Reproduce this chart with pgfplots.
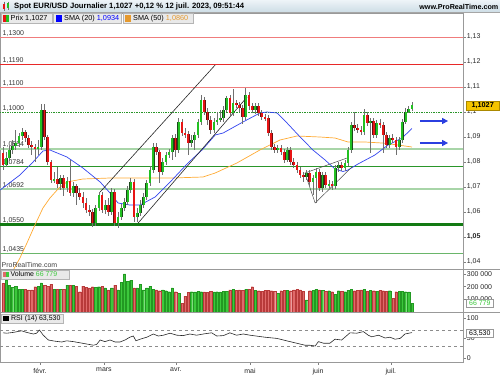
\documentclass[border=0pt]{standalone}
\usepackage{pgfplots}
\pgfplotsset{compat=1.18}
\usepackage{pgfplotstable}
\usepackage{fontspec}
\setmainfont{Liberation Sans}
\usetikzlibrary{arrows.meta}

\definecolor{candG}{HTML}{22C022}
\definecolor{candR}{HTML}{E81414}
\definecolor{candGo}{HTML}{1A4A1A}
\definecolor{candRo}{HTML}{6A1010}
\definecolor{wick}{HTML}{707070}
\definecolor{volG}{HTML}{3CC83C}
\definecolor{volGd}{HTML}{229922}
\definecolor{volR}{HTML}{E06A6A}
\definecolor{volRd}{HTML}{B83A3A}
\definecolor{smaB}{HTML}{3344EE}
\definecolor{smaO}{HTML}{FFAA33}
\definecolor{lvR}{HTML}{E82828}
\definecolor{lvRl}{HTML}{F07C7C}
\definecolor{lvG}{HTML}{2A962A}
\definecolor{lvGl}{HTML}{A8D5A8}
\definecolor{lvGd}{HTML}{137A13}
\definecolor{arrB}{HTML}{2B3FE0}
\definecolor{hdrT}{HTML}{EEF4F8}
\definecolor{hdrB}{HTML}{CCDCE5}
\definecolor{lgbg}{HTML}{E9E9E9}
\definecolor{lgbd}{HTML}{B5B5B5}
\definecolor{yel}{HTML}{F4C400}
\definecolor{volTxt}{HTML}{3CC83C}

\newcommand\tf{\fontsize{7}{8}\selectfont}
\newcommand\hf{\fontsize{7.7}{9}\selectfont\bfseries}

% i open high low close volume  (up candles)
\pgfplotstableread{
i o h l c v
1 1.0788 1.0840 1.0780 1.0816 252000
2 1.0816 1.0864 1.0804 1.0848 213000
3 1.0848 1.0888 1.0832 1.0864 197000
4 1.0864 1.0928 1.0848 1.0876 205000
5 1.0876 1.0916 1.0860 1.0904 181000
6 1.0904 1.0936 1.0888 1.0920 181000
11 1.0852 1.0888 1.0828 1.0860 205000
12 1.0860 1.1032 1.0848 1.1008 229000
16 1.0728 1.0760 1.0716 1.0732 181000
18 1.0712 1.0748 1.0688 1.0736 181000
20 1.0696 1.0740 1.0680 1.0724 213000
22 1.0676 1.0720 1.0660 1.0704 213000
29 1.0556 1.0628 1.0544 1.0616 197000
30 1.0616 1.0680 1.0604 1.0668 200000
32 1.0608 1.0648 1.0592 1.0628 190000
34 1.0600 1.0696 1.0588 1.0680 190000
36 1.0556 1.0600 1.0536 1.0580 174000
37 1.0580 1.0632 1.0568 1.0616 236000
38 1.0616 1.0656 1.0604 1.0640 300000
39 1.0640 1.0704 1.0628 1.0688 244000
40 1.0688 1.0736 1.0676 1.0720 252000
42 1.0580 1.0616 1.0560 1.0596 190000
43 1.0596 1.0648 1.0584 1.0628 221000
44 1.0628 1.0676 1.0616 1.0660 174000
45 1.0660 1.0728 1.0648 1.0716 190000
46 1.0716 1.0784 1.0704 1.0768 205000
47 1.0768 1.0876 1.0756 1.0860 181000
50 1.0760 1.0816 1.0748 1.0800 174000
51 1.0800 1.0840 1.0788 1.0828 168000
52 1.0828 1.0852 1.0816 1.0840 160000
53 1.0840 1.0908 1.0808 1.0896 190000
55 1.0848 1.0976 1.0836 1.0960 150000
59 1.0876 1.0908 1.0860 1.0888 160000
60 1.0888 1.0920 1.0848 1.0908 158000
61 1.0908 1.0972 1.0896 1.0960 165000
62 1.0960 1.1068 1.0948 1.1048 160000
66 1.0928 1.0976 1.0916 1.0960 158000
67 1.0960 1.1000 1.0948 1.0968 160000
68 1.0968 1.1008 1.0960 1.0976 158000
69 1.0976 1.1024 1.0960 1.1008 162000
70 1.1008 1.1064 1.1000 1.1056 165000
72 1.0996 1.1092 1.0984 1.1036 178000
76 1.0980 1.1096 1.0968 1.1068 180000
79 1.1008 1.1036 1.0992 1.1024 170000
86 1.0848 1.0868 1.0836 1.0856 150000
89 1.0808 1.0860 1.0800 1.0848 172000
95 1.0740 1.0768 1.0728 1.0756 95000
97 1.0720 1.0748 1.0668 1.0736 172000
98 1.0736 1.0776 1.0636 1.0760 181000
100 1.0696 1.0760 1.0680 1.0748 170000
102 1.0708 1.0728 1.0696 1.0712 168000
104 1.0704 1.0788 1.0692 1.0776 140000
105 1.0776 1.0800 1.0760 1.0788 168000
107 1.0776 1.0808 1.0764 1.0796 160000
108 1.0796 1.0860 1.0784 1.0848 172000
109 1.0848 1.0960 1.0836 1.0948 180000
113 1.0920 1.1012 1.0908 1.0988 181000
115 1.0956 1.0976 1.0836 1.0964 170000
117 1.0908 1.0968 1.0896 1.0956 165000
121 1.0868 1.0908 1.0856 1.0896 168000
124 1.0860 1.0900 1.0848 1.0888 162000
125 1.0888 1.0972 1.0876 1.0960 165000
126 1.0960 1.1016 1.0952 1.1000 160000
127 1.1000 1.1024 1.0996 1.1012 158000
128 1.1012 1.1040 1.1004 1.1027 66779
}\up

% down candles
\pgfplotstableread{
i o h l c v
0 1.0836 1.0860 1.0768 1.0788 226000
7 1.0920 1.0928 1.0880 1.0896 181000
8 1.0896 1.0908 1.0856 1.0868 174000
9 1.0868 1.0884 1.0828 1.0860 174000
10 1.0860 1.0872 1.0800 1.0852 200000
13 1.1008 1.1032 1.0888 1.0900 213000
14 1.0900 1.0908 1.0788 1.0800 205000
15 1.0800 1.0808 1.0716 1.0728 221000
17 1.0732 1.0780 1.0696 1.0712 181000
19 1.0736 1.0748 1.0664 1.0696 181000
21 1.0724 1.0808 1.0664 1.0676 213000
23 1.0704 1.0712 1.0628 1.0676 205000
24 1.0676 1.0696 1.0648 1.0660 160000
25 1.0660 1.0680 1.0616 1.0636 205000
26 1.0636 1.0656 1.0596 1.0608 197000
27 1.0608 1.0628 1.0584 1.0600 190000
28 1.0600 1.0612 1.0540 1.0556 200000
31 1.0668 1.0680 1.0596 1.0608 205000
33 1.0628 1.0656 1.0584 1.0600 174000
35 1.0680 1.0692 1.0544 1.0556 213000
41 1.0720 1.0732 1.0560 1.0580 190000
48 1.0860 1.0876 1.0828 1.0840 174000
49 1.0840 1.0848 1.0716 1.0760 168000
54 1.0896 1.0912 1.0820 1.0848 160000
56 1.0960 1.0972 1.0904 1.0916 70000
57 1.0916 1.0936 1.0896 1.0912 126000
58 1.0912 1.0924 1.0828 1.0876 155000
63 1.1048 1.1060 1.0988 1.1000 158000
64 1.1000 1.1016 1.0948 1.0968 155000
65 1.0968 1.0984 1.0912 1.0928 162000
71 1.1056 1.1068 1.0984 1.0996 175000
73 1.1036 1.1048 1.1016 1.1028 172000
74 1.1028 1.1040 1.1000 1.1016 175000
75 1.1016 1.1028 1.0952 1.0980 170000
77 1.1068 1.1080 1.1008 1.1024 181000
78 1.1024 1.1036 1.0996 1.1008 200000
80 1.1024 1.1036 1.0984 1.0996 168000
81 1.0996 1.1008 1.0968 1.0980 165000
82 1.0980 1.0992 1.0964 1.0976 170000
83 1.0976 1.0988 1.0904 1.0916 172000
84 1.0916 1.0928 1.0848 1.0860 168000
85 1.0860 1.0872 1.0836 1.0848 165000
87 1.0856 1.0868 1.0828 1.0840 168000
88 1.0840 1.0852 1.0796 1.0808 170000
90 1.0848 1.0860 1.0788 1.0800 168000
91 1.0800 1.0816 1.0776 1.0788 175000
92 1.0788 1.0800 1.0756 1.0768 181000
93 1.0768 1.0780 1.0736 1.0748 175000
94 1.0748 1.0760 1.0720 1.0740 165000
96 1.0756 1.0768 1.0704 1.0720 168000
99 1.0760 1.0772 1.0684 1.0696 175000
101 1.0748 1.0760 1.0696 1.0708 165000
103 1.0712 1.0724 1.0688 1.0704 160000
106 1.0788 1.0800 1.0764 1.0776 165000
110 1.0948 1.1000 1.0924 1.0936 168000
111 1.0936 1.0952 1.0916 1.0928 172000
112 1.0928 1.0944 1.0908 1.0920 175000
114 1.0988 1.1000 1.0944 1.0956 165000
116 1.0964 1.0976 1.0896 1.0908 168000
118 1.0956 1.0972 1.0936 1.0948 172000
119 1.0948 1.0960 1.0836 1.0908 168000
120 1.0908 1.0920 1.0856 1.0868 165000
122 1.0896 1.0912 1.0876 1.0888 108000
123 1.0888 1.0900 1.0828 1.0860 160000
}\dn

\pgfplotstableread{
x s
-0.9 1.0688
5.3 1.0748
9.4 1.0800
12.5 1.0844
14.7 1.0848
20.0 1.0820
25.0 1.0776
30.4 1.0720
33.5 1.0676
36.0 1.0636
39.7 1.0628
42.9 1.0628
47.6 1.0660
52.9 1.0728
57.9 1.0796
62.3 1.0848
66.4 1.0908
68.9 1.0916
75.1 1.0960
80.4 1.0996
82.6 1.1000
85.8 1.0996
88.9 1.0956
93.0 1.0900
97.0 1.0848
100.8 1.0808
103.9 1.0772
106.4 1.0762
108.0 1.0768
111.1 1.0792
116.4 1.0828
120.5 1.0868
124.9 1.0896
128.0 1.0934
}\smaA

\pgfplotstableread{
x s
3.4 1.0372
5.3 1.0416
7.5 1.0476
10.0 1.0548
12.5 1.0616
14.7 1.0656
17.5 1.0696
20.0 1.0720
25.0 1.0732
33.5 1.0736
42.3 1.0736
52.9 1.0736
62.6 1.0740
66.4 1.0756
73.2 1.0796
80.4 1.0848
86.7 1.0888
92.0 1.0904
99.2 1.0900
103.9 1.0896
108.0 1.0880
113.3 1.0880
118.6 1.0876
123.6 1.0868
128.0 1.0860
}\smaB

\pgfplotstableread{
x r
0 63
1.2 62
3.2 64
5.8 68
7.4 64
9.5 60
10.5 62
11.4 70
12.6 57
14.2 45
16.3 42
18.4 40
19.9 43
22 41
24.1 38
26.2 35
28.3 32
29.3 34
30.4 45
31.9 41
33.5 45
35.1 40
36.6 40
38.2 45
39.7 52
40.8 55
41.6 43
42.9 47
45 52
47 60
48.6 55
50.2 57
52.3 62
54.4 57
56.4 56
58.5 60
60.6 57
62.7 60
65.3 63
66.9 55
69 56
71 63
73.1 57
75.2 60
77.3 57
82 52
85.7 49
89.8 41
91.9 37
94.5 32
96 32
97.7 30
98.7 41
100.3 37
102.3 37
103.9 47
106 45
108.6 63
110.7 62
112.8 66
114.3 57
115.4 53
117.5 57
119.6 50
121.1 52
122.7 47
124.3 49
125.8 60
128 63.53
}\rsi

\pgfplotsset{
  panel/.style={scale only axis, width=463bp, xmin=-0.94, xmax=143.97,
    axis line style={draw=black!40, line width=0.5bp},
    tick align=outside, major tick length=2.5bp,
    tick style={draw=black!50, line width=0.5bp},
    ytick pos=right, yticklabel pos=right,
    yticklabel style={font=\tf, text=black!85, inner sep=1.2bp},
    xticklabel style={font=\tf, text=black!85},
    clip=false},
  wk/.style={draw=none, mark=none, forget plot, error bars/.cd, y dir=both, y explicit,
    error mark=none, error bar style={draw=wick, line width=0.7bp}},
  bodyout/.style={draw=none, mark=none, forget plot, error bars/.cd, y dir=both, y explicit,
    error mark=none, error bar style={draw=#1, line width=2.7bp}},
  bodyin/.style={draw=none, mark=none, forget plot, error bars/.cd, y dir=both, y explicit,
    error mark=none, error bar style={draw=#1, line width=1.9bp}},
  lvl/.style={forget plot, line width=#1},
}

\begin{document}
\begin{tikzpicture}
\useasboundingbox (0,0) rectangle (500bp,-375bp);

% ---------------- price panel ----------------
\begin{axis}[panel, at={(0bp,-269bp)}, anchor=south west, height=256bp,
  ymin=1.0372, ymax=1.1396, xtick=\empty,
  ytick={1.04,1.05,1.06,1.07,1.08,1.09,1.1,1.11,1.12,1.13},
  yticklabels={{1,04},{\textbf{1,05}},{1,06},{1,07},{1,08},{1,09},{1,1},{1,11},{1,12},{1,13}}]
  % levels
  \addplot[lvl=0.7bp, lvRl] coordinates {(-0.94,1.1300) (143.97,1.1300)};
  \addplot[lvl=1.6bp, lvR] coordinates {(-0.94,1.1190) (143.97,1.1190)};
  \addplot[lvl=0.7bp, lvRl] coordinates {(-0.94,1.1100) (143.97,1.1100)};
  \addplot[lvl=0.7bp, lvG, densely dotted] coordinates {(-0.94,1.1000) (143.97,1.1000)};
  \addplot[lvl=2bp, lvGl] coordinates {(-0.94,1.0854) (143.97,1.0854)};
  \addplot[lvl=1bp, lvG] coordinates {(-0.94,1.0784) (143.97,1.0784)};
  \addplot[lvl=2bp, lvGl] coordinates {(-0.94,1.0692) (143.97,1.0692)};
  \addplot[lvl=2.4bp, lvGd] coordinates {(-0.94,1.0550) (143.97,1.0550)};
  \addplot[lvl=0.8bp, lvG!70] coordinates {(-0.94,1.0435) (143.97,1.0435)};
  \foreach \v/\t in {1.1300/{1,1300},1.1190/{1,1190},1.1100/{1,1100},1.1000/{1,1000},1.0854/{1,0854},1.0784/{1,0784},1.0692/{1,0692},1.0550/{1,0550},1.0435/{1,0435}}{
    \edef\tmp{\noexpand\node[anchor=south west, font=\noexpand\tf, text=black!80, inner sep=0.8bp] at (axis cs:-0.4,\v) {\t};}\tmp
  }
  % SMA
  \addplot[smaO, line width=0.7bp, forget plot] table[x=x,y=s]{\smaB};
  \addplot[smaB, line width=0.7bp, forget plot] table[x=x,y=s]{\smaA};
  % channels
  \addplot[black!85, line width=0.6bp, forget plot] coordinates {(30.4,1.0680) (66.4,1.1188)};
  \addplot[black!85, line width=0.6bp, forget plot] coordinates {(42.3,1.0556) (76.4,1.1060)};
  \addplot[black!70, line width=0.5bp, forget plot] coordinates {(94.5,1.0756) (107.7,1.0816)};
  \addplot[black!70, line width=0.5bp, forget plot] coordinates {(97.7,1.0636) (109.2,1.0780)};
  \addplot[black!70, line width=0.5bp, forget plot] coordinates {(94.5,1.0756) (97.7,1.0636)};
  % candles: wicks
  \addplot[wk] table[x=i, y expr={(\thisrow{h}+\thisrow{l})/2}, y error expr={(\thisrow{h}-\thisrow{l})/2}]{\up};
  \addplot[wk] table[x=i, y expr={(\thisrow{h}+\thisrow{l})/2}, y error expr={(\thisrow{h}-\thisrow{l})/2}]{\dn};
  % bodies
  \addplot[bodyout=candGo] table[x=i, y expr={(\thisrow{o}+\thisrow{c})/2}, y error expr={(\thisrow{c}-\thisrow{o})/2+0.00018}]{\up};
  \addplot[bodyin=candG] table[x=i, y expr={(\thisrow{o}+\thisrow{c})/2}, y error expr={(\thisrow{c}-\thisrow{o})/2}]{\up};
  \addplot[bodyout=candRo] table[x=i, y expr={(\thisrow{o}+\thisrow{c})/2}, y error expr={(\thisrow{o}-\thisrow{c})/2+0.00018}]{\dn};
  \addplot[bodyin=candR] table[x=i, y expr={(\thisrow{o}+\thisrow{c})/2}, y error expr={(\thisrow{o}-\thisrow{c})/2}]{\dn};
  % arrows
  \addplot[arrB, line width=1.4bp, forget plot, -{Triangle[length=6bp,width=6bp]}] coordinates {(130.5,1.0964) (139.3,1.0964)};
  \addplot[arrB, line width=1.4bp, forget plot, -{Triangle[length=6bp,width=6bp]}] coordinates {(130.5,1.0876) (139.3,1.0876)};
\end{axis}

% ---------------- volume panel ----------------
\begin{axis}[panel, at={(0bp,-312bp)}, anchor=south west, height=43bp,
  ymin=0, ymax=339400, xtick=\empty, scaled y ticks=false,
  ytick={100000,200000,300000}, yticklabels={{100 000},{200 000},{300 000}}]
  \addplot[ybar, bar width=2.3bp, bar shift=0pt, fill=volG, draw=volGd, line width=0.3bp] table[x=i,y=v]{\up};
  \addplot[ybar, bar width=2.3bp, bar shift=0pt, fill=volR, draw=volRd, line width=0.3bp] table[x=i,y=v]{\dn};
\end{axis}

% ---------------- RSI panel ----------------
\begin{axis}[panel, at={(0bp,-362bp)}, anchor=south west, height=50bp,
  ymin=-10, ymax=115,
  xtick={11.6,31.6,54.1,77.3,98.6,121.4}, xticklabels={févr.,mars,avr.,mai,juin,juil.},
  xtick pos=bottom,
  ytick={0,50,100}, yticklabels={0,50,100}]
  \addplot[black!45, dashed, line width=0.5bp, forget plot] coordinates {(-0.94,70) (143.97,70)};
  \addplot[black!45, dashed, line width=0.5bp, forget plot] coordinates {(-0.94,30) (143.97,30)};
  \addplot[black!85, line width=0.6bp] table[x=x,y=r]{\rsi};
\end{axis}

% separators on the right side
\draw[black!40, line width=0.5bp] (463bp,-269bp) -- (500bp,-269bp);
\draw[black!40, line width=0.5bp] (463bp,-312bp) -- (500bp,-312bp);

% ---------------- header ----------------
\shade[top color=hdrT, bottom color=hdrB] (0,0) rectangle (500bp,-12.5bp);
\draw[black!35, line width=0.5bp] (0,-12.5bp) -- (500bp,-12.5bp);
\draw[wick, line width=0.5bp] (4bp,-1.5bp) -- (4bp,-10.5bp);
\fill[candR] (2.7bp,-3.5bp) rectangle (5.3bp,-9bp);
\draw[wick, line width=0.5bp] (8bp,-1.5bp) -- (8bp,-10bp);
\fill[candG] (6.7bp,-2.8bp) rectangle (9.3bp,-8bp);
\node[anchor=west, font=\hf, inner sep=0pt] at (14bp,-6.5bp) {Spot EUR/USD Journalier 1,1027 +0,12 \% 12 juil. 2023, 09:51:44};
\node[anchor=east, font=\fontsize{7.2}{8}\selectfont\bfseries, inner sep=0pt] at (498.5bp,-6.5bp) {www.ProRealTime.com};

% legend row
\draw[fill=lgbg, draw=lgbd, line width=0.4bp] (1.5bp,-13.3bp) rectangle (52bp,-23.5bp);
\fill[candR] (3bp,-15.3bp) rectangle (6bp,-21.5bp);
\fill[candG] (6bp,-15.3bp) rectangle (9bp,-21.5bp);
\node[anchor=west, font=\fontsize{7.3}{8}\selectfont, inner sep=0pt] at (10.5bp,-18.5bp) {Prix 1,1027};
\draw[fill=lgbg, draw=lgbd, line width=0.4bp] (53.5bp,-13.3bp) rectangle (121.5bp,-23.5bp);
\fill[blue] (55.5bp,-15.3bp) rectangle (61.5bp,-21.5bp);
\node[anchor=west, font=\fontsize{7.3}{8}\selectfont, inner sep=0pt] at (64bp,-18.5bp) {SMA (20) \textcolor{blue}{1,0934}};
\draw[fill=lgbg, draw=lgbd, line width=0.4bp] (123bp,-13.3bp) rectangle (193bp,-23.5bp);
\fill[smaO!90!black] (124.5bp,-15.3bp) rectangle (130.5bp,-21.5bp);
\node[anchor=west, font=\fontsize{7.3}{8}\selectfont, inner sep=0pt] at (133bp,-18.5bp) {SMA (50) \textcolor{smaO!90!black}{1,0860}};

% price tag
\draw[fill=yel, draw=yel!70!black, line width=0.4bp] (466bp,-101bp) rectangle (499.5bp,-110bp);
\node[font=\fontsize{7.3}{8}\selectfont\bfseries, inner sep=0pt] at (482.7bp,-105.6bp) {1,1027};

% volume panel texts
\node[anchor=west, font=\tf, text=black!75, inner sep=0pt] at (1.5bp,-265bp) {ProRealTime.com};
\draw[fill=lgbg, draw=lgbd, line width=0.4bp] (0.8bp,-269.8bp) rectangle (69bp,-278.8bp);
\fill[volR] (3bp,-271.5bp) rectangle (5.8bp,-277bp);
\fill[volG] (5.8bp,-271.5bp) rectangle (8.6bp,-277bp);
\node[anchor=west, font=\tf, inner sep=0pt] at (10.5bp,-274.3bp) {Volume \textcolor{volTxt}{66 779}};
\draw[fill=white, draw=black!40, line width=0.4bp] (466bp,-299bp) rectangle (493.5bp,-307.5bp);
\node[font=\tf, text=volTxt, inner sep=0pt] at (479.8bp,-303.3bp) {66 779};

% RSI panel texts
\draw[fill=lgbg, draw=lgbd, line width=0.4bp] (0.8bp,-313.8bp) rectangle (63bp,-323bp);
\fill[black] (3bp,-315.5bp) rectangle (9bp,-321.3bp);
\node[anchor=west, font=\tf, inner sep=0pt] at (11bp,-318.4bp) {RSI (14) 63,530};
\draw[fill=white, draw=black!40, line width=0.4bp] (466bp,-329bp) rectangle (493.5bp,-337.5bp);
\node[font=\tf, inner sep=0pt] at (479.8bp,-333.3bp) {63,530};
\end{tikzpicture}
\end{document}
